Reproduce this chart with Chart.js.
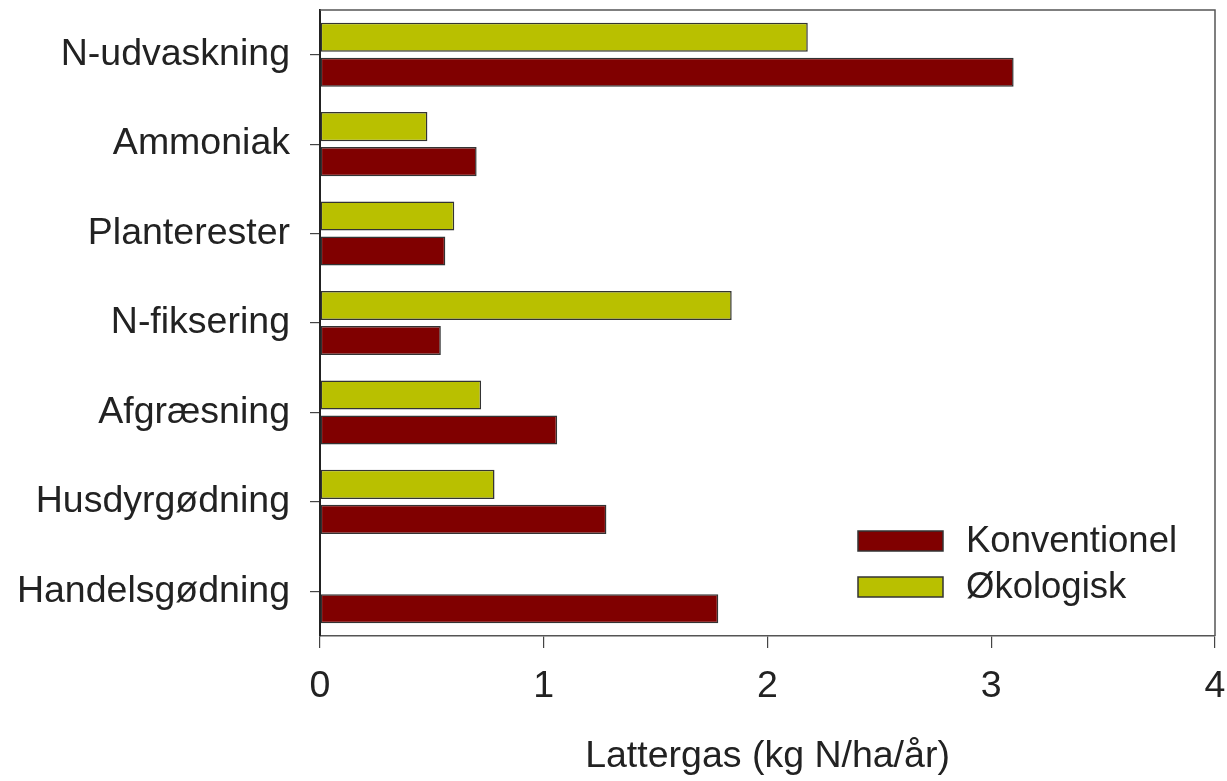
<!DOCTYPE html>
<html>
<head>
<meta charset="utf-8">
<script src="https://cdn.jsdelivr.net/npm/chart.js@4"></script>
<style>
html,body{margin:0;padding:0;background:#fff;}
#wrap{width:1227px;height:781px;position:relative;}
</style>
</head>
<body>
<div id="wrap"><canvas id="c" width="1227" height="781"></canvas></div>
<script>
const categories = ["N-udvaskning","Ammoniak","Planterester","N-fiksering","Afgræsning","Husdyrgødning","Handelsgødning"];
const okologisk = [2.18, 0.48, 0.60, 1.84, 0.72, 0.78, 0];
const konventionel = [3.10, 0.70, 0.56, 0.54, 1.06, 1.28, 1.78];
const xTicks = [0, 1, 2, 3, 4];
const axisTitle = "Lattergas (kg N/ha/år)";
const legendOrder = ["Konventionel", "Økologisk"];

const FONT = "'Liberation Sans', Arial, sans-serif";
const GREEN = "#B9C000";
const RED = "#800000";

const framePlugin = {
  id: 'frame',
  afterDatasetsDraw(chart) {
    const {ctx, chartArea: a} = chart;
    ctx.save();
    ctx.strokeStyle = '#555';
    ctx.lineWidth = 1.5;
    ctx.beginPath();
    ctx.moveTo(a.left, a.top);
    ctx.lineTo(a.right, a.top);
    ctx.lineTo(a.right, a.bottom);
    ctx.stroke();
    ctx.restore();
  },
  afterDraw(chart) {
    const {ctx} = chart;
    const ds = chart.data.datasets;
    ctx.save();
    ctx.font = "36.5px " + FONT;
    ctx.textBaseline = 'middle';
    const x0 = 858, w = 85, h = 20;
    const ys = [531, 577];
    legendOrder.forEach((lab, i) => {
      const d = ds.find(s => s.label === lab);
      ctx.fillStyle = d.backgroundColor;
      ctx.fillRect(x0, ys[i], w, h);
      ctx.strokeStyle = '#333';
      ctx.lineWidth = 1.5;
      ctx.strokeRect(x0, ys[i], w, h);
      ctx.fillStyle = '#222';
      ctx.fillText(lab, 966, ys[i] + h / 2 + 1);
    });
    ctx.restore();
  }
};

function noPad(s) { s.paddingTop = 0; s.paddingBottom = 0; s.paddingLeft = 0; s.paddingRight = 0; }

new Chart(document.getElementById('c'), {
  type: 'bar',
  data: {
    labels: categories,
    datasets: [
      {label: "Økologisk", data: okologisk, backgroundColor: GREEN, borderColor: '#333', borderWidth: 1.5, borderSkipped: false,
       categoryPercentage: 0.783, barPercentage: 0.83},
      {label: "Konventionel", data: konventionel, backgroundColor: RED, borderColor: '#333', borderWidth: 1.5, borderSkipped: false,
       categoryPercentage: 0.783, barPercentage: 0.83}
    ]
  },
  options: {
    indexAxis: 'y',
    responsive: false,
    animation: false,
    events: [],
    layout: {autoPadding: false, padding: {left: 0, top: 10, right: 12, bottom: 0}},
    plugins: {legend: {display: false}, tooltip: {enabled: false}},
    scales: {
      x: {
        min: 0, max: 4,
        afterFit(s) { s.height = 145; noPad(s); },
        afterBuildTicks(s) { s.ticks = xTicks.map(v => ({value: v})); },
        grid: {display: true, drawOnChartArea: false, drawTicks: true, tickLength: 12, color: '#444', lineWidth: 1.2},
        border: {display: true, color: '#555', width: 1.5},
        ticks: {font: {family: FONT, size: 37.5}, color: '#222', padding: 16, maxRotation: 0},
        title: {display: true, text: axisTitle, font: {family: FONT, size: 37.5}, color: '#222', padding: {top: 0, bottom: 2}}
      },
      y: {
        afterFit(s) { s.width = 320; noPad(s); },
        grid: {display: true, offset: false, drawOnChartArea: false, drawTicks: true, tickLength: 10, color: '#444', lineWidth: 1.2},
        border: {display: true, color: '#222', width: 2},
        ticks: {font: {family: FONT, size: 37.5}, color: '#222', padding: 20}
      }
    }
  },
  plugins: [framePlugin]
});
</script>
</body>
</html>
